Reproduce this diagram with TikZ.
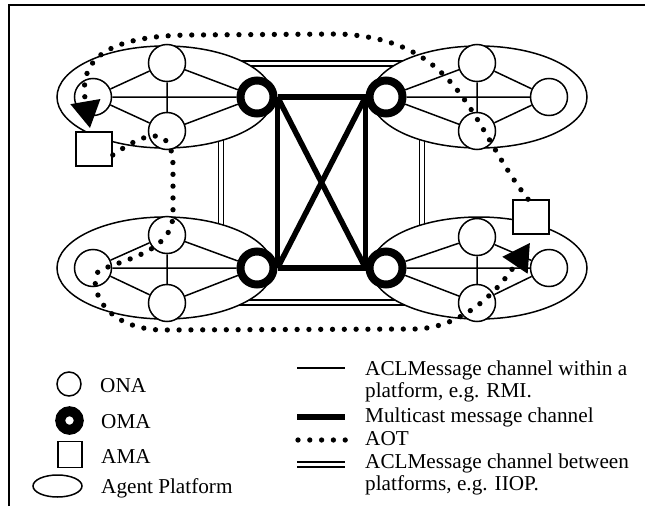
\documentclass[tikz,border=0pt]{standalone}
\usepackage{fontspec}
\setmainfont{Liberation Serif}
\usetikzlibrary{shapes.geometric,arrows.meta}
\begin{document}
\begin{tikzpicture}[x=1pt,y=-1pt,
  frame/.style={line width=2pt},
  platform/.style={ellipse,draw,fill=white,line width=1.5pt,minimum width=216pt,minimum height=102pt,inner sep=0pt},
  ona/.style={circle,draw,fill=white,line width=1.5pt,minimum size=37pt,inner sep=0pt},
  oma/.style={circle,draw,fill=white,line width=8pt,minimum size=33pt,inner sep=0pt},
  ama/.style={rectangle,draw,fill=white,line width=1.6pt,minimum width=36pt,minimum height=34pt,inner sep=0pt},
  within/.style={line width=1.5pt},
  mcast/.style={line width=5.5pt},
  aot/.style={line width=5.3pt,line cap=round,dash pattern=on 0pt off 11.8pt},
  between/.style={double,double distance=3.2pt,line width=1.6pt},
  lbl/.style={anchor=base west,inner sep=0pt,font=\fontsize{21.2}{24}\selectfont},
  tip/.style={-{Triangle[length=27pt,width=29pt]}}
]
\useasboundingbox (0,0) rectangle (645,506);
\fill[white] (0,0) rectangle (645,506);
\draw[frame] (9,506) -- (9,5) -- (645,5);

% ACLMessage channels between platforms
\coordinate (r1) at (221,63.5);
\coordinate (r2) at (422,63.5);
\coordinate (r3) at (422,302.5);
\coordinate (r4) at (221,302.5);
\draw[between] (r1) -- (r2) -- (r3) -- (r4) -- cycle;

% platforms
\node[platform] (P1) at (165,97) {};
\node[platform] (P2) at (479,97) {};
\node[platform] (P3) at (165,268) {};
\node[platform] (P4) at (479,268) {};

% top-left platform
\node[ona] (a1) at (167,63) {};
\node[ona] (a2) at (93,97) {};
\node[ona] (a3) at (167,131) {};
\node[oma] (m1) at (257,97) {};
% top-right platform
\node[ona] (b1) at (477,63) {};
\node[ona] (b2) at (549,97) {};
\node[ona] (b3) at (477,131) {};
\node[oma] (m2) at (386,97) {};
% bottom-left platform
\node[ona] (c1) at (167,235) {};
\node[ona] (c2) at (93,268) {};
\node[ona] (c3) at (167,303) {};
\node[oma] (m3) at (257,268) {};
% bottom-right platform
\node[ona] (d1) at (477,237) {};
\node[ona] (d2) at (549,268) {};
\node[ona] (d3) at (477,303) {};
\node[oma] (m4) at (386,268) {};

\draw[within] (a2) -- (a1) (a2) -- (a3) (a2) -- (m1) (a1) -- (a3) (a1) -- (m1) (a3) -- (m1);
\draw[within] (b2) -- (b1) (b2) -- (b3) (b2) -- (m2) (b1) -- (b3) (b1) -- (m2) (b3) -- (m2);
\draw[within] (c2) -- (c1) (c2) -- (c3) (c2) -- (m3) (c1) -- (c3) (c1) -- (m3) (c3) -- (m3);
\draw[within] (d2) -- (d1) (d2) -- (d3) (d2) -- (m4) (d1) -- (d3) (d1) -- (m4) (d3) -- (m4);

% multicast channels
\draw[mcast] (m1.east) -- (m2.west);
\draw[mcast] (m3.east) -- (m4.west);
\draw[mcast] (m1.east) -- (m3.east);
\draw[mcast] (m2.west) -- (m4.west);
\draw[mcast] (m1.east) -- (m4.west);
\draw[mcast] (m2.west) -- (m3.east);

% AMAs
\node[ama] (s1) at (94,149) {};
\node[ama] (s2) at (531,217) {};

% AOT paths
\draw[aot,tip] ([xshift=-3pt]s2.north) .. controls (470,125) and (462,40) .. (340,34)
  -- (190,35) .. controls (90,36) and (80,70) .. ([xshift=-4pt,yshift=3pt]s1.north);
\draw[aot,tip] ([yshift=-6pt]s1.east) .. controls (140,136) and (172,120) .. (173,165)
  -- (173,215) .. controls (172,250) and (130,258) .. (100,270)
  .. controls (88,277) and (95,327) .. (160,330)
  -- (415,329) .. controls (460,328) and (495,295) .. ([xshift=-1pt,yshift=-8pt]s2.south);

% legend, left column
\node[ona,minimum size=24pt] (lg1) at (69,384) {};
\node[oma,minimum size=18.5pt,line width=10pt] (lg2) at (69.5,420.5) {};
\node[ama,minimum width=24pt,minimum height=26pt] (lg3) at (70,454.5) {};
\node[platform,minimum width=49pt,minimum height=22pt] (lg4) at (57.5,486) {};
\node[lbl] (t1) at (100,392) {ONA};
\node[lbl] (t2) at (101,428) {OMA};
\node[lbl] (t3) at (101,463) {AMA};
\node[lbl] (t4) at (101,493) {Agent Platform};

% legend, right column
\coordinate (k1a) at (297,368); \coordinate (k1b) at (345,368);
\coordinate (k2a) at (297,417); \coordinate (k2b) at (345,417);
\coordinate (k3a) at (298,440); \coordinate (k3b) at (345.2,440);
\coordinate (k4a) at (297,464.5); \coordinate (k4b) at (345,464.5);
\draw[within] (k1a) -- (k1b);
\draw[mcast] (k2a) -- (k2b);
\draw[aot] (k3a) -- (k3b);
\draw[between] (k4a) -- (k4b);
\node[lbl] (u1) at (365,375) {ACLMessage channel within a};
\node[lbl] (u2) at (365,397) {platform, e.g. RMI.};
\node[lbl] (u3) at (365,422) {Multicast message channel};
\node[lbl] (u4) at (365,445) {AOT};
\node[lbl] (u5) at (365,468) {ACLMessage channel between};
\node[lbl] (u6) at (365,490) {platforms, e.g. IIOP.};
\end{tikzpicture}
\end{document}
